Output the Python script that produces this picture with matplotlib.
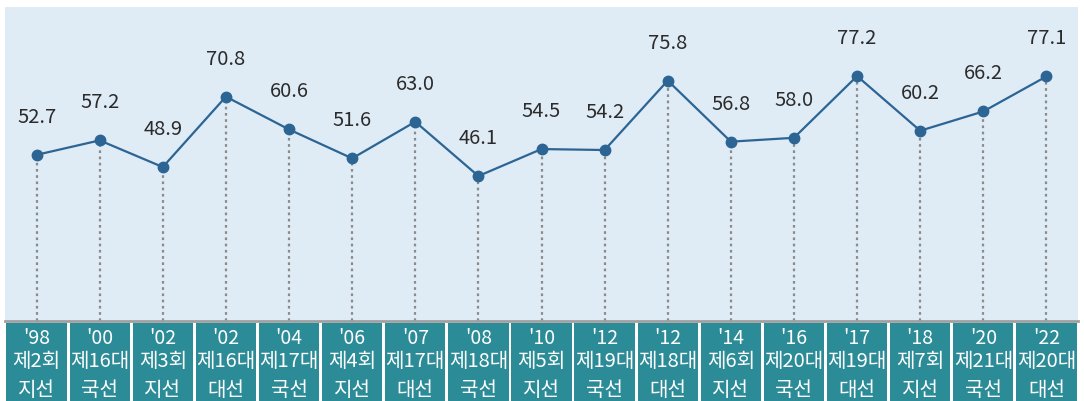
import numpy as np
import matplotlib
matplotlib.use('Agg')
import matplotlib.pyplot as plt

plt.rcParams['font.family'] = ['Noto Sans CJK KR', 'DejaVu Sans']

# 연도 / 선거 구분
years = ["'98", "'00", "'02", "'02", "'04", "'06", "'07", "'08", "'10",
         "'12", "'12", "'14", "'16", "'17", "'18", "'20", "'22"]
elections = ["제2회", "제16대", "제3회", "제16대", "제17대", "제4회", "제17대", "제18대", "제5회",
             "제19대", "제18대", "제6회", "제20대", "제19대", "제7회", "제21대", "제20대"]
kinds = ["지선", "국선", "지선", "대선", "국선", "지선", "대선", "국선", "지선",
         "국선", "대선", "지선", "국선", "대선", "지선", "국선", "대선"]
turnout = [52.7, 57.2, 48.9, 70.8, 60.6, 51.6, 63.0, 46.1, 54.5,
           54.2, 75.8, 56.8, 58.0, 77.2, 60.2, 66.2, 77.1]

line_color = '#2c6594'
panel_color = '#dfebf5'
teal = '#2b8b96'

W, H = 1084, 401
fig = plt.figure(figsize=(W / 100, H / 100), dpi=100)

x = np.arange(len(turnout))

# main chart panel
ax = fig.add_axes([5 / W, (H - 321) / H, 1073 / W, 314 / H])
ax.set_facecolor(panel_color)
ax.set_xlim(-0.5, len(x) - 0.5)
ax.set_ylim(1, 98.7)
ax.vlines(x, 1, turnout, colors='#8a8a8a', linestyles=(0, (1.2, 1.6)), linewidth=1.6, zorder=1)
ax.plot(x, turnout, color=line_color, linewidth=1.6, marker='o', markersize=7.5, zorder=3)
for xi, v in zip(x, turnout):
    ax.annotate(f"{v:.1f}", (xi, v), xytext=(0, 27), textcoords='offset points',
                ha='center', va='center', fontsize=14.5, color='#2b2b2b')
for s in ['top', 'left', 'right']:
    ax.spines[s].set_visible(False)
ax.spines['bottom'].set_color('#a0a0a0')
ax.spines['bottom'].set_linewidth(2)
ax.set_xticks([])
ax.set_yticks([])

# label boxes
lab = fig.add_axes([5 / W, 0, 1073 / W, (H - 323) / H])
lab.set_xlim(-0.5, len(x) - 0.5)
lab.set_ylim(0, 1)
lab.axis('off')
lab.bar(x, 1, width=0.955, color=teal, bottom=0)
for xi, yr, el, kd in zip(x, years, elections, kinds):
    lab.text(xi, 0.80, yr, ha='center', va='center', color='white', fontsize=14)
    lab.text(xi, 0.51, el, ha='center', va='center', color='white', fontsize=14.5)
    lab.text(xi, 0.13, kd, ha='center', va='center', color='white', fontsize=14.5)

fig.savefig('out.png', dpi=100)
